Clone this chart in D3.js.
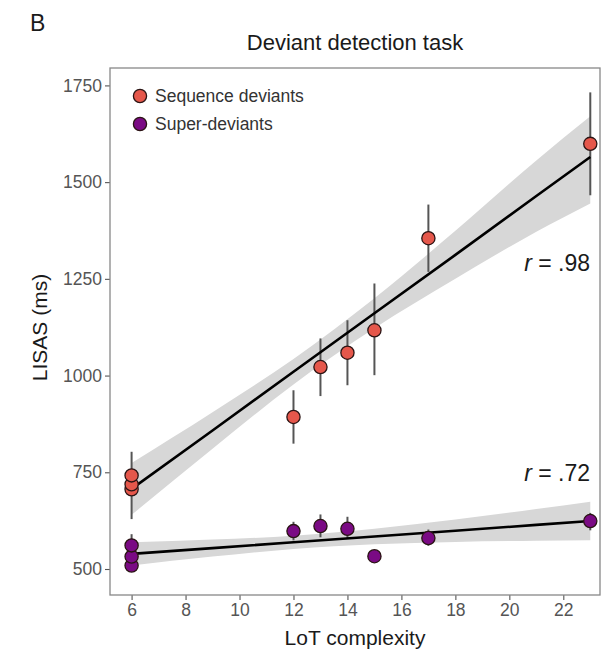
<!DOCTYPE html>
<html><head><meta charset="utf-8">
<script src="https://cdn.jsdelivr.net/npm/d3@7"></script>
<style>body{margin:0;background:#fff}svg{display:block}text{font-family:"Liberation Sans",Arial,sans-serif}</style>
</head><body>
<svg id="c" width="616" height="651"></svg>
<script>
// ---- data ----
const xTicks = [6, 8, 10, 12, 14, 16, 18, 20, 22];
const yTicks = [500, 750, 1000, 1250, 1500, 1750];
const seriesNames = ["Sequence deviants", "Super-deviants"];
const seriesColors = ["#E5574B", "#7A0A84"];

const seqX = [6, 6, 6, 12, 13, 14, 15, 17, 23];
const seqY = [706, 719, 742, 893, 1022, 1059, 1117, 1355, 1599];
const seqErrLo = [629, null, null, 824, 947, 975, 1001, 1268, 1466];
const seqErrHi = [803, null, null, 962, 1096, 1143, 1238, 1442, 1732];

const supX = [6, 6, 6, 12, 13, 14, 15, 17, 23];
const supY = [509, 532, 561, 598, 611, 604, 533, 580, 624];
const supErrLo = [530, null, null, 574, 582, 578, 525, 560, 600];
const supErrHi = [590, null, null, 622, 641, 635, 541, 602, 645];

const fitX = [6, 9, 12, 15, 18, 21, 23];
const seqFit = [707, 858, 1010, 1161, 1312, 1464, 1565];
const seqBandLo = [640, 811, 977, 1122, 1250, 1372, 1445];
const seqBandHi = [774, 905, 1043, 1200, 1374, 1556, 1670];
const supFit = [539, 554, 569, 584, 599, 614, 624];
const supBandLo = [509, 532, 552, 564, 570, 573, 574];
const supBandHi = [569, 576, 586, 604, 628, 655, 674];

const rLabels = ["r", " = .98", " = .72"];

// ---- layout ----
const svg = d3.select("#c");
const L = 110, R = 600, T = 68, B = 595;
const x = d3.scaleLinear().domain([5.2, 23.36]).range([L, R]);
const y = d3.scaleLinear().domain([432.8, 1795]).range([B, T]);

// title & panel letter
svg.append("text").attr("x", 30).attr("y", 31).attr("font-size", 23).attr("fill", "#1a1a1a").text("B");
svg.append("text").attr("x", (L + R) / 2).attr("y", 50).attr("text-anchor", "middle")
  .attr("font-size", 22).attr("fill", "#1a1a1a").text("Deviant detection task");

// axes
const xAxis = svg.append("g").attr("transform", `translate(0,${B})`)
  .call(d3.axisBottom(x).tickValues(xTicks).tickFormat(d3.format("d")).tickSize(5).tickPadding(4));
const yAxis = svg.append("g").attr("transform", `translate(${L},0)`)
  .call(d3.axisLeft(y).tickValues(yTicks).tickFormat(d3.format("d")).tickSize(5).tickPadding(3));
[xAxis, yAxis].forEach(g => {
  g.select(".domain").remove();
  g.selectAll(".tick line").attr("stroke", "#555").attr("stroke-width", 1.1);
  g.selectAll(".tick text").attr("fill", "#555").attr("font-size", 17.5)
    .attr("font-family", '"Liberation Sans",Arial,sans-serif');
});

svg.append("text").attr("x", (L + R) / 2).attr("y", 645).attr("text-anchor", "middle")
  .attr("font-size", 21).attr("fill", "#1a1a1a").text("LoT complexity");
svg.append("text").attr("transform", `translate(47,${(T + B) / 2 - 4}) rotate(-90)`).attr("text-anchor", "middle")
  .attr("font-size", 21).attr("fill", "#1a1a1a").text("LISAS (ms)");

// ribbons
const area = d3.area().x((d, i) => x(fitX[i])).curve(d3.curveMonotoneX);
const line = d3.line().x((d, i) => x(fitX[i])).curve(d3.curveLinear);
const plot = svg.append("g");
[[seqBandLo, seqBandHi], [supBandLo, supBandHi]].forEach(([lo, hi]) => {
  plot.append("path").datum(fitX)
    .attr("d", area.y0((d, i) => y(lo[i])).y1((d, i) => y(hi[i])))
    .attr("fill", "#d7d7d7");
});

// error bars
[[seqX, seqErrLo, seqErrHi], [supX, supErrLo, supErrHi]].forEach(([xs, lo, hi]) => {
  xs.forEach((v, i) => {
    if (lo[i] == null) return;
    plot.append("line").attr("x1", x(v)).attr("x2", x(v)).attr("y1", y(lo[i])).attr("y2", y(hi[i]))
      .attr("stroke", "#555").attr("stroke-width", 2);
  });
});

// fit lines
[seqFit, supFit].forEach(f => {
  plot.append("path").datum(fitX).attr("d", line.y((d, i) => y(f[i])))
    .attr("fill", "none").attr("stroke", "#000").attr("stroke-width", 2.6);
});

// points
[[seqX, seqY, 0], [supX, supY, 1]].forEach(([xs, ys, k]) => {
  xs.forEach((v, i) => {
    plot.append("circle").attr("cx", x(v)).attr("cy", y(ys[i])).attr("r", 6.6)
      .attr("fill", seriesColors[k]).attr("stroke", "#2a1414").attr("stroke-width", 1.3);
  });
});

// r labels
function rLabel(val, yy) {
  const t = svg.append("text").attr("x", 590).attr("y", yy).attr("text-anchor", "end")
    .attr("font-size", 23).attr("fill", "#1a1a1a");
  t.append("tspan").attr("font-style", "italic").text(rLabels[0]);
  t.append("tspan").text(val);
}
rLabel(rLabels[1], 271);
rLabel(rLabels[2], 481);

// legend
seriesNames.forEach((n, i) => {
  const cy = 96 + i * 28;
  svg.append("circle").attr("cx", 140).attr("cy", cy).attr("r", 6.6)
    .attr("fill", seriesColors[i]).attr("stroke", "#2a1414").attr("stroke-width", 1.3);
  svg.append("text").attr("x", 155).attr("y", cy + 6).attr("font-size", 17.5).attr("fill", "#333").text(n);
});

// panel border
svg.append("rect").attr("x", L).attr("y", T).attr("width", R - L).attr("height", B - T)
  .attr("fill", "none").attr("stroke", "#888").attr("stroke-width", 1.3);
</script>
</body></html>
